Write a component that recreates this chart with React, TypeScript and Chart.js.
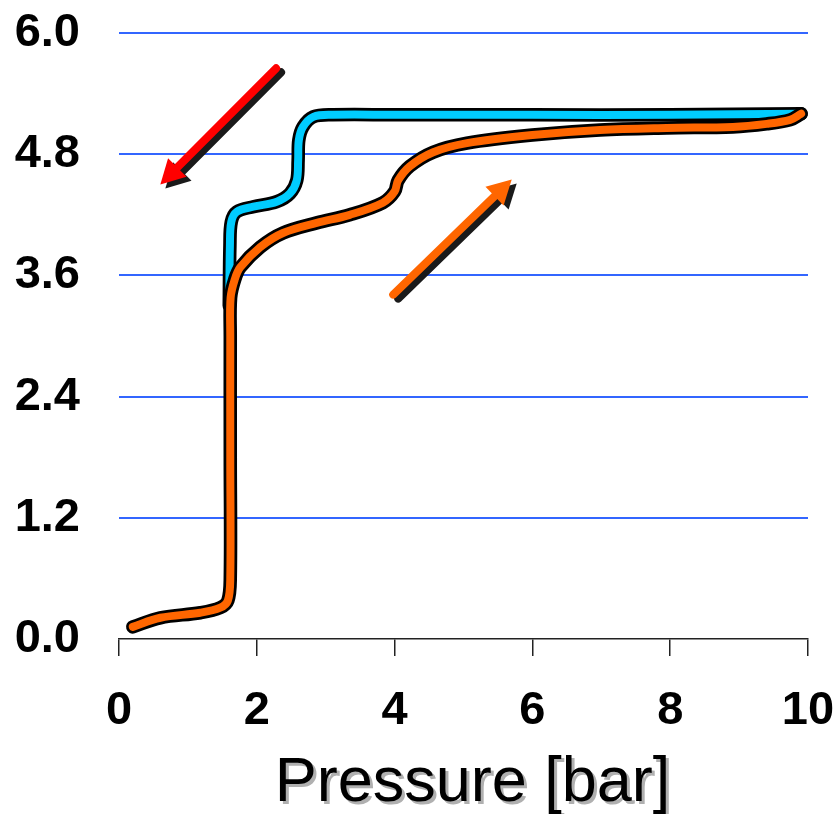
import React, { useEffect, useRef } from "react";
import { Chart, registerables } from "chart.js";

Chart.register(...registerables);

// Adsorption branch (orange)
const adsorptionX = [0.2, 0.6, 1.18, 1.47, 1.58, 1.615, 1.615, 1.615, 1.62, 1.68, 1.76, 2.05, 2.38, 2.87, 3.35, 3.83, 4.0, 4.05, 4.22, 4.56, 5.05, 6.0, 6.98, 7.95, 8.91, 9.4, 9.74, 9.9];
const adsorptionY = [0.12, 0.21, 0.26, 0.31, 0.38, 0.6, 1.8, 3.0, 3.38, 3.56, 3.68, 3.88, 4.02, 4.12, 4.2, 4.32, 4.43, 4.54, 4.68, 4.82, 4.91, 4.99, 5.04, 5.06, 5.07, 5.1, 5.14, 5.2];

// Desorption branch (cyan)
const desorptionX = [9.9, 8.0, 6.0, 4.0, 3.1, 2.82, 2.67, 2.61, 2.6, 2.58, 2.48, 2.29, 1.95, 1.71, 1.63, 1.61, 1.6];
const desorptionY = [5.2, 5.19, 5.19, 5.19, 5.19, 5.17, 5.07, 4.94, 4.74, 4.54, 4.41, 4.33, 4.28, 4.23, 4.13, 3.9, 3.3];

// Arrows: [fromX, fromY, toX, toY]
const arrowDown = [2.28, 5.65, 0.6, 4.5];
const arrowUp = [3.98, 3.41, 5.7, 4.55];

const xTicks = [0, 2, 4, 6, 8, 10];
const yTicks = [0, 1.2, 2.4, 3.6, 4.8, 6.0];
const xTitle = "Pressure [bar]";

const FONT = 'Arial, "Liberation Sans", sans-serif';
const ORANGE = "#ff6600";
const CYAN = "#00ccff";
const RED = "#ff0000";
const GRID = "#3366ff";

const toPoints = (xs: number[], ys: number[]) => xs.map((x, i) => ({ x, y: ys[i] }));

export default function App() {
  const canvasRef = useRef<HTMLCanvasElement | null>(null);

  useEffect(() => {
    const canvas = canvasRef.current;
    if (!canvas) return;

    const arrowPlugin = {
      id: "arrows",
      afterDatasetsDraw(chart: any) {
        const { ctx, scales } = chart;
        const xs = scales.x;
        const ys = scales.y;
        const drawArrow = (a: number[], color: string, dx: number, dy: number) => {
          const x1 = xs.getPixelForValue(a[0]) + dx;
          const y1 = ys.getPixelForValue(a[1]) + dy;
          const x2 = xs.getPixelForValue(a[2]) + dx;
          const y2 = ys.getPixelForValue(a[3]) + dy;
          const ang = Math.atan2(y2 - y1, x2 - x1);
          const headLen = 24;
          const headHalf = 13;
          const bx = x2 - headLen * Math.cos(ang);
          const by = y2 - headLen * Math.sin(ang);
          ctx.save();
          ctx.strokeStyle = color;
          ctx.fillStyle = color;
          ctx.lineWidth = 8;
          ctx.lineCap = "round";
          ctx.beginPath();
          ctx.moveTo(x1, y1);
          ctx.lineTo(bx + 2 * Math.cos(ang), by + 2 * Math.sin(ang));
          ctx.stroke();
          ctx.beginPath();
          ctx.moveTo(x2, y2);
          ctx.lineTo(bx + headHalf * Math.sin(ang), by - headHalf * Math.cos(ang));
          ctx.lineTo(bx - headHalf * Math.sin(ang), by + headHalf * Math.cos(ang));
          ctx.closePath();
          ctx.fill();
          ctx.restore();
        };
        drawArrow(arrowDown, "#1a1a1a", 5, 4);
        drawArrow(arrowDown, RED, 0, 0);
        drawArrow(arrowUp, "#1a1a1a", 5, 4);
        drawArrow(arrowUp, ORANGE, 0, 0);
      },
    };

    const titlePlugin = {
      id: "xTitleShadow",
      afterDraw(chart: any) {
        const { ctx, chartArea } = chart;
        const cx = (chartArea.left + chartArea.right) / 2 + 9;
        const cy = chartArea.bottom + 162;
        ctx.save();
        ctx.font = `normal 63px ${FONT}`;
        ctx.textAlign = "center";
        ctx.textBaseline = "alphabetic";
        ctx.fillStyle = "#b0b0b0";
        ctx.fillText(xTitle, cx + 3, cy + 3);
        ctx.fillStyle = "#000000";
        ctx.fillText(xTitle, cx, cy);
        ctx.restore();
      },
    };

    const lineCommon = {
      pointRadius: 0,
      pointHoverRadius: 0,
      tension: 0.35,
      borderCapStyle: "round",
      borderJoinStyle: "round",
      fill: false,
      clip: false,
    };

    // Chart.js paints the first dataset on top, so the topmost stroke comes first.
    const chart = new Chart(canvas, {
      type: "line",
      data: {
        datasets: [
          { ...lineCommon, data: toPoints(adsorptionX, adsorptionY), borderColor: ORANGE, borderWidth: 8 },
          { ...lineCommon, data: toPoints(adsorptionX, adsorptionY), borderColor: "#000000", borderWidth: 13.5 },
          { ...lineCommon, data: toPoints(desorptionX, desorptionY), borderColor: CYAN, borderWidth: 8 },
          { ...lineCommon, data: toPoints(desorptionX, desorptionY), borderColor: "#000000", borderWidth: 13.5 },
        ] as any,
      },
      options: {
        responsive: false,
        animation: false,
        events: [],
        layout: { padding: { top: 33, right: 31, left: 0, bottom: 0 } },
        plugins: {
          legend: { display: false },
          tooltip: { enabled: false },
          title: { display: false },
        },
        scales: {
          x: {
            type: "linear",
            min: 0,
            max: 10,
            afterBuildTicks: (scale: any) => {
              scale.ticks = xTicks.map((v) => ({ value: v }));
            },
            afterFit: (scale: any) => {
              scale.height = 175;
              scale.paddingLeft = 0;
              scale.paddingRight = 0;
            },
            grid: {
              display: true,
              drawOnChartArea: false,
              drawTicks: true,
              tickLength: 17,
              color: "#222222",
              lineWidth: 1.5,
            },
            border: { display: true, color: "#222222", width: 1.5 },
            ticks: {
              color: "#000000",
              font: { family: FONT, size: 47, weight: "bold" },
              padding: 27,
              maxRotation: 0,
              autoSkip: false,
              callback: (v: any) => String(v),
            },
            title: { display: false },
          },
          y: {
            type: "linear",
            min: 0,
            max: 6,
            afterBuildTicks: (scale: any) => {
              scale.ticks = yTicks.map((v) => ({ value: v }));
            },
            afterFit: (scale: any) => {
              scale.width = 119;
              scale.paddingTop = 0;
              scale.paddingBottom = 0;
            },
            grid: {
              display: true,
              drawTicks: false,
              color: (c: any) => (c.tick && c.tick.value === 0 ? "rgba(0,0,0,0)" : GRID),
              lineWidth: 2,
            },
            border: { display: false },
            ticks: {
              color: "#000000",
              font: { family: FONT, size: 47, weight: "bold" },
              padding: 39,
              autoSkip: false,
              callback: (v: any) => Number(v).toFixed(1),
            },
          },
        },
      } as any,
      plugins: [arrowPlugin, titlePlugin],
    });

    return () => {
      chart.destroy();
    };
  }, []);

  return (
    <div style={{ position: "fixed", left: 0, top: 0, width: 839, height: 814, background: "#ffffff" }}>
      <canvas ref={canvasRef} width={839} height={814} style={{ display: "block" }} />
    </div>
  );
}
